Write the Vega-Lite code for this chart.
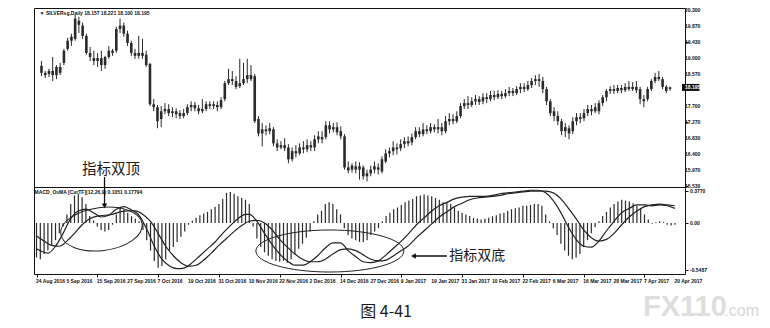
{
  "$schema": "https://vega.github.io/schema/vega-lite/v6.json",
  "background": "white",
  "padding": {"left": 33, "top": 7, "right": 0, "bottom": 0},
  "spacing": 0,
  "bounds": "flush",
  "config": {
    "view": {"stroke": "#111", "strokeWidth": 1},
    "axis": {"grid": false, "domain": false, "labels": false, "tickColor": "#111", "tickSize": 3, "title": null},
    "text": {"font": "Liberation Sans"}
  },
  "datasets": {
    "bars": [
      {"i":0,"o":18.78,"h":18.91,"l":18.50,"c":18.59,"m":-0.40},
      {"i":1,"o":18.59,"h":18.64,"l":18.45,"c":18.53,"m":-0.42},
      {"i":2,"o":18.56,"h":18.70,"l":18.48,"c":18.64,"m":-0.36},
      {"i":3,"o":18.64,"h":19.02,"l":18.37,"c":18.53,"m":-0.32},
      {"i":4,"o":18.53,"h":18.80,"l":18.42,"c":18.75,"m":-0.26},
      {"i":5,"o":18.75,"h":18.86,"l":18.53,"c":18.59,"m":-0.20},
      {"i":6,"o":18.86,"h":19.24,"l":18.80,"c":19.19,"m":-0.12},
      {"i":7,"o":19.24,"h":19.54,"l":19.19,"c":19.46,"m":-0.04},
      {"i":8,"o":19.46,"h":19.65,"l":19.32,"c":19.57,"m":0.10},
      {"i":9,"o":19.51,"h":20.16,"l":19.46,"c":20.06,"m":0.22},
      {"i":10,"o":20.00,"h":20.11,"l":19.67,"c":19.89,"m":0.32},
      {"i":11,"o":19.87,"h":19.95,"l":19.51,"c":19.59,"m":0.34},
      {"i":12,"o":19.59,"h":19.65,"l":19.08,"c":19.13,"m":0.30},
      {"i":13,"o":19.13,"h":19.29,"l":18.91,"c":19.02,"m":0.22},
      {"i":14,"o":18.99,"h":19.19,"l":18.80,"c":18.91,"m":0.08},
      {"i":15,"o":18.91,"h":19.13,"l":18.75,"c":18.99,"m":0.03},
      {"i":16,"o":18.99,"h":19.19,"l":18.64,"c":18.80,"m":-0.04},
      {"i":17,"o":18.80,"h":19.05,"l":18.70,"c":19.02,"m":-0.08},
      {"i":18,"o":19.02,"h":19.32,"l":18.97,"c":19.19,"m":-0.10},
      {"i":19,"o":19.19,"h":19.24,"l":19.05,"c":19.13,"m":-0.08},
      {"i":20,"o":19.19,"h":19.84,"l":19.13,"c":19.78,"m":-0.02},
      {"i":21,"o":19.78,"h":20.06,"l":19.67,"c":19.87,"m":0.10},
      {"i":22,"o":19.87,"h":19.95,"l":19.57,"c":19.65,"m":0.18},
      {"i":23,"o":19.65,"h":19.73,"l":19.32,"c":19.40,"m":0.16},
      {"i":24,"o":19.40,"h":19.46,"l":19.05,"c":19.13,"m":0.12},
      {"i":25,"o":19.13,"h":19.24,"l":18.97,"c":19.05,"m":0.08},
      {"i":26,"o":19.05,"h":19.59,"l":18.97,"c":19.13,"m":0.05},
      {"i":27,"o":19.13,"h":19.51,"l":18.97,"c":19.05,"m":0.02},
      {"i":28,"o":19.08,"h":19.19,"l":18.75,"c":18.80,"m":-0.08},
      {"i":29,"o":18.83,"h":18.86,"l":17.69,"c":17.74,"m":-0.20},
      {"i":30,"o":17.74,"h":17.88,"l":17.55,"c":17.66,"m":-0.32},
      {"i":31,"o":17.66,"h":17.72,"l":17.09,"c":17.28,"m":-0.44},
      {"i":32,"o":17.34,"h":17.69,"l":17.12,"c":17.55,"m":-0.52},
      {"i":33,"o":17.55,"h":17.77,"l":17.47,"c":17.61,"m":-0.50},
      {"i":34,"o":17.61,"h":17.74,"l":17.42,"c":17.50,"m":-0.42},
      {"i":35,"o":17.50,"h":17.66,"l":17.39,"c":17.55,"m":-0.32},
      {"i":36,"o":17.55,"h":17.63,"l":17.36,"c":17.47,"m":-0.28},
      {"i":37,"o":17.50,"h":17.58,"l":17.34,"c":17.42,"m":-0.22},
      {"i":38,"o":17.42,"h":17.61,"l":17.36,"c":17.50,"m":-0.16},
      {"i":39,"o":17.50,"h":17.74,"l":17.44,"c":17.66,"m":-0.10},
      {"i":40,"o":17.66,"h":17.82,"l":17.55,"c":17.72,"m":-0.02},
      {"i":41,"o":17.72,"h":17.80,"l":17.55,"c":17.63,"m":0.03},
      {"i":42,"o":17.63,"h":17.72,"l":17.47,"c":17.55,"m":0.06},
      {"i":43,"o":17.55,"h":17.88,"l":17.50,"c":17.61,"m":0.09},
      {"i":44,"o":17.61,"h":17.82,"l":17.55,"c":17.74,"m":0.11},
      {"i":45,"o":17.74,"h":17.82,"l":17.61,"c":17.69,"m":0.13},
      {"i":46,"o":17.69,"h":17.82,"l":17.61,"c":17.74,"m":0.16},
      {"i":47,"o":17.72,"h":17.82,"l":17.55,"c":17.66,"m":0.19},
      {"i":48,"o":17.66,"h":17.93,"l":17.61,"c":17.85,"m":0.22},
      {"i":49,"o":17.88,"h":18.37,"l":17.82,"c":18.31,"m":0.28},
      {"i":50,"o":18.31,"h":18.70,"l":18.26,"c":18.42,"m":0.35},
      {"i":51,"o":18.42,"h":18.64,"l":18.26,"c":18.37,"m":0.36},
      {"i":52,"o":18.37,"h":18.50,"l":18.15,"c":18.21,"m":0.34},
      {"i":53,"o":18.23,"h":18.97,"l":18.18,"c":18.31,"m":0.31},
      {"i":54,"o":18.31,"h":18.86,"l":18.26,"c":18.42,"m":0.29},
      {"i":55,"o":18.42,"h":18.97,"l":18.31,"c":18.53,"m":0.27},
      {"i":56,"o":18.53,"h":18.80,"l":18.37,"c":18.42,"m":0.22},
      {"i":57,"o":18.50,"h":18.56,"l":17.23,"c":17.28,"m":-0.04},
      {"i":58,"o":17.34,"h":17.42,"l":16.87,"c":16.95,"m":-0.18},
      {"i":59,"o":16.95,"h":17.23,"l":16.60,"c":17.06,"m":-0.28},
      {"i":60,"o":17.06,"h":17.17,"l":16.90,"c":17.01,"m":-0.34},
      {"i":61,"o":17.01,"h":17.23,"l":16.93,"c":17.09,"m":-0.38},
      {"i":62,"o":17.06,"h":17.12,"l":16.60,"c":16.68,"m":-0.42},
      {"i":63,"o":16.68,"h":16.79,"l":16.47,"c":16.57,"m":-0.44},
      {"i":64,"o":16.57,"h":16.74,"l":16.52,"c":16.63,"m":-0.45},
      {"i":65,"o":16.63,"h":16.82,"l":16.47,"c":16.55,"m":-0.44},
      {"i":66,"o":16.57,"h":16.66,"l":16.14,"c":16.25,"m":-0.46},
      {"i":67,"o":16.25,"h":16.57,"l":16.19,"c":16.47,"m":-0.42},
      {"i":68,"o":16.47,"h":16.63,"l":16.30,"c":16.41,"m":-0.36},
      {"i":69,"o":16.41,"h":16.68,"l":16.36,"c":16.57,"m":-0.30},
      {"i":70,"o":16.57,"h":16.74,"l":16.41,"c":16.52,"m":-0.24},
      {"i":71,"o":16.52,"h":16.79,"l":16.44,"c":16.63,"m":-0.17},
      {"i":72,"o":16.63,"h":16.74,"l":16.47,"c":16.57,"m":-0.10},
      {"i":73,"o":16.57,"h":16.90,"l":16.47,"c":16.79,"m":0.02},
      {"i":74,"o":16.79,"h":17.01,"l":16.68,"c":16.87,"m":0.10},
      {"i":75,"o":16.85,"h":17.01,"l":16.68,"c":16.79,"m":0.14},
      {"i":76,"o":16.85,"h":17.28,"l":16.79,"c":17.17,"m":0.22},
      {"i":77,"o":17.17,"h":17.28,"l":16.95,"c":17.06,"m":0.24},
      {"i":78,"o":17.06,"h":17.23,"l":16.98,"c":17.12,"m":0.22},
      {"i":79,"o":17.12,"h":17.25,"l":16.90,"c":16.98,"m":0.16},
      {"i":80,"o":17.01,"h":17.14,"l":16.79,"c":16.87,"m":0.10},
      {"i":81,"o":16.87,"h":16.93,"l":15.97,"c":16.03,"m":-0.06},
      {"i":82,"o":16.03,"h":16.19,"l":15.87,"c":15.95,"m":-0.14},
      {"i":83,"o":15.97,"h":16.14,"l":15.89,"c":16.08,"m":-0.18},
      {"i":84,"o":16.06,"h":16.19,"l":15.87,"c":15.97,"m":-0.20},
      {"i":85,"o":15.97,"h":16.17,"l":15.70,"c":16.06,"m":-0.22},
      {"i":86,"o":16.03,"h":16.08,"l":15.70,"c":15.79,"m":-0.22},
      {"i":87,"o":15.79,"h":15.97,"l":15.65,"c":15.87,"m":-0.20},
      {"i":88,"o":15.87,"h":16.08,"l":15.79,"c":15.97,"m":-0.14},
      {"i":89,"o":15.97,"h":16.19,"l":15.87,"c":16.06,"m":-0.10},
      {"i":90,"o":16.03,"h":16.14,"l":15.84,"c":15.97,"m":-0.06},
      {"i":91,"o":15.92,"h":16.33,"l":15.87,"c":16.25,"m":0.02},
      {"i":92,"o":16.19,"h":16.52,"l":16.14,"c":16.41,"m":0.08},
      {"i":93,"o":16.41,"h":16.57,"l":16.30,"c":16.47,"m":0.12},
      {"i":94,"o":16.47,"h":16.74,"l":16.36,"c":16.57,"m":0.16},
      {"i":95,"o":16.57,"h":16.68,"l":16.38,"c":16.52,"m":0.18},
      {"i":96,"o":16.55,"h":16.79,"l":16.47,"c":16.66,"m":0.21},
      {"i":97,"o":16.66,"h":16.85,"l":16.55,"c":16.74,"m":0.24},
      {"i":98,"o":16.74,"h":16.87,"l":16.60,"c":16.68,"m":0.26},
      {"i":99,"o":16.71,"h":16.95,"l":16.63,"c":16.85,"m":0.28},
      {"i":100,"o":16.85,"h":17.12,"l":16.79,"c":17.01,"m":0.31},
      {"i":101,"o":17.01,"h":17.12,"l":16.85,"c":16.93,"m":0.32},
      {"i":102,"o":16.93,"h":17.23,"l":16.87,"c":17.06,"m":0.33},
      {"i":103,"o":17.06,"h":17.17,"l":16.93,"c":17.01,"m":0.32},
      {"i":104,"o":17.01,"h":17.23,"l":16.95,"c":17.12,"m":0.31},
      {"i":105,"o":17.12,"h":17.20,"l":16.98,"c":17.06,"m":0.29},
      {"i":106,"o":17.06,"h":17.34,"l":16.95,"c":17.12,"m":0.27},
      {"i":107,"o":17.12,"h":17.23,"l":16.90,"c":17.01,"m":0.24},
      {"i":108,"o":17.01,"h":17.42,"l":16.95,"c":17.28,"m":0.24},
      {"i":109,"o":17.28,"h":17.50,"l":17.17,"c":17.34,"m":0.22},
      {"i":110,"o":17.34,"h":17.47,"l":17.20,"c":17.28,"m":0.18},
      {"i":111,"o":17.28,"h":17.55,"l":17.23,"c":17.42,"m":0.14},
      {"i":112,"o":17.42,"h":17.77,"l":17.36,"c":17.69,"m":0.12},
      {"i":113,"o":17.69,"h":17.88,"l":17.61,"c":17.77,"m":0.10},
      {"i":114,"o":17.77,"h":17.96,"l":17.61,"c":17.72,"m":0.08},
      {"i":115,"o":17.72,"h":17.93,"l":17.66,"c":17.82,"m":0.06},
      {"i":116,"o":17.82,"h":17.99,"l":17.72,"c":17.88,"m":0.05},
      {"i":117,"o":17.88,"h":17.96,"l":17.72,"c":17.80,"m":0.04},
      {"i":118,"o":17.82,"h":18.04,"l":17.74,"c":17.93,"m":0.05},
      {"i":119,"o":17.93,"h":18.04,"l":17.77,"c":17.88,"m":0.06},
      {"i":120,"o":17.88,"h":18.10,"l":17.82,"c":17.99,"m":0.08},
      {"i":121,"o":17.99,"h":18.10,"l":17.85,"c":17.93,"m":0.09},
      {"i":122,"o":17.93,"h":18.12,"l":17.88,"c":18.02,"m":0.11},
      {"i":123,"o":18.02,"h":18.10,"l":17.88,"c":17.96,"m":0.12},
      {"i":124,"o":17.96,"h":18.15,"l":17.91,"c":18.04,"m":0.14},
      {"i":125,"o":18.04,"h":18.21,"l":17.96,"c":18.10,"m":0.16},
      {"i":126,"o":18.10,"h":18.18,"l":17.96,"c":18.04,"m":0.17},
      {"i":127,"o":18.04,"h":18.23,"l":17.99,"c":18.15,"m":0.18},
      {"i":128,"o":18.15,"h":18.31,"l":18.04,"c":18.21,"m":0.20},
      {"i":129,"o":18.21,"h":18.31,"l":18.07,"c":18.15,"m":0.20},
      {"i":130,"o":18.15,"h":18.37,"l":18.10,"c":18.26,"m":0.21},
      {"i":131,"o":18.26,"h":18.45,"l":18.18,"c":18.37,"m":0.22},
      {"i":132,"o":18.37,"h":18.53,"l":18.26,"c":18.42,"m":0.22},
      {"i":133,"o":18.42,"h":18.56,"l":18.21,"c":18.37,"m":0.20},
      {"i":134,"o":18.37,"h":18.48,"l":18.04,"c":18.15,"m":0.10},
      {"i":135,"o":18.15,"h":18.21,"l":17.72,"c":17.82,"m":0.02},
      {"i":136,"o":17.82,"h":17.88,"l":17.42,"c":17.50,"m":-0.06},
      {"i":137,"o":17.55,"h":17.66,"l":17.28,"c":17.42,"m":-0.14},
      {"i":138,"o":17.42,"h":17.55,"l":17.17,"c":17.28,"m":-0.24},
      {"i":139,"o":17.28,"h":17.34,"l":16.90,"c":17.01,"m":-0.32},
      {"i":140,"o":17.01,"h":17.23,"l":16.85,"c":17.12,"m":-0.38},
      {"i":141,"o":17.09,"h":17.17,"l":16.79,"c":16.95,"m":-0.42},
      {"i":142,"o":17.01,"h":17.39,"l":16.93,"c":17.28,"m":-0.40},
      {"i":143,"o":17.28,"h":17.50,"l":17.17,"c":17.39,"m":-0.36},
      {"i":144,"o":17.39,"h":17.50,"l":17.23,"c":17.34,"m":-0.28},
      {"i":145,"o":17.36,"h":17.61,"l":17.28,"c":17.50,"m":-0.20},
      {"i":146,"o":17.50,"h":17.72,"l":17.42,"c":17.61,"m":-0.12},
      {"i":147,"o":17.61,"h":17.72,"l":17.44,"c":17.55,"m":-0.05},
      {"i":148,"o":17.55,"h":17.77,"l":17.50,"c":17.66,"m":0.02},
      {"i":149,"o":17.55,"h":17.85,"l":17.47,"c":17.77,"m":0.08},
      {"i":150,"o":17.77,"h":17.99,"l":17.69,"c":17.93,"m":0.13},
      {"i":151,"o":17.93,"h":18.15,"l":17.82,"c":18.10,"m":0.18},
      {"i":152,"o":18.10,"h":18.23,"l":18.02,"c":18.15,"m":0.22},
      {"i":153,"o":18.15,"h":18.26,"l":18.02,"c":18.10,"m":0.25},
      {"i":154,"o":18.10,"h":18.26,"l":18.04,"c":18.18,"m":0.27},
      {"i":155,"o":18.18,"h":18.26,"l":18.04,"c":18.12,"m":0.26},
      {"i":156,"o":18.12,"h":18.31,"l":18.07,"c":18.21,"m":0.25},
      {"i":157,"o":18.21,"h":18.37,"l":18.10,"c":18.15,"m":0.23},
      {"i":158,"o":18.15,"h":18.34,"l":18.10,"c":18.21,"m":0.20},
      {"i":159,"o":18.21,"h":18.37,"l":18.04,"c":18.12,"m":0.17},
      {"i":160,"o":18.15,"h":18.21,"l":17.74,"c":17.88,"m":0.10},
      {"i":161,"o":17.88,"h":17.99,"l":17.66,"c":17.82,"m":0.04},
      {"i":162,"o":17.88,"h":18.21,"l":17.82,"c":18.15,"m":-0.01},
      {"i":163,"o":18.15,"h":18.42,"l":18.10,"c":18.37,"m":0.01},
      {"i":164,"o":18.37,"h":18.59,"l":18.31,"c":18.48,"m":0.02},
      {"i":165,"o":18.48,"h":18.64,"l":18.37,"c":18.42,"m":0.01},
      {"i":166,"o":18.42,"h":18.48,"l":18.15,"c":18.21,"m":-0.02},
      {"i":167,"o":18.21,"h":18.26,"l":18.04,"c":18.10,"m":-0.03},
      {"i":168,"o":18.157,"h":18.221,"l":18.100,"c":18.195,"m":-0.02}
    ],
    "macd": [
      {"i":0,"v":-0.30},{"i":3,"v":-0.35},{"i":5,"v":-0.27},{"i":7,"v":-0.12},{"i":9,"v":0.05},
      {"i":11,"v":0.14},{"i":13,"v":0.16},{"i":15,"v":0.12},{"i":17,"v":0.07},{"i":19,"v":0.09},
      {"i":21,"v":0.16},{"i":23,"v":0.19},{"i":25,"v":0.15},{"i":27,"v":0.09},{"i":29,"v":-0.07},
      {"i":31,"v":-0.27},{"i":33,"v":-0.42},{"i":35,"v":-0.50},{"i":37,"v":-0.53},{"i":39,"v":-0.52},
      {"i":41,"v":-0.46},{"i":43,"v":-0.38},{"i":45,"v":-0.30},{"i":47,"v":-0.22},{"i":49,"v":-0.12},
      {"i":51,"v":-0.03},{"i":53,"v":0.05},{"i":55,"v":0.10},{"i":56,"v":0.10},{"i":58,"v":0.02},
      {"i":60,"v":-0.12},{"i":62,"v":-0.25},{"i":64,"v":-0.36},{"i":66,"v":-0.44},{"i":68,"v":-0.49},
      {"i":70,"v":-0.49},{"i":72,"v":-0.45},{"i":74,"v":-0.38},{"i":76,"v":-0.29},{"i":78,"v":-0.23},
      {"i":80,"v":-0.23},{"i":82,"v":-0.32},{"i":84,"v":-0.39},{"i":86,"v":-0.45},{"i":88,"v":-0.46},
      {"i":90,"v":-0.44},{"i":92,"v":-0.37},{"i":94,"v":-0.29},{"i":96,"v":-0.21},{"i":98,"v":-0.12},
      {"i":100,"v":-0.02},{"i":102,"v":0.06},{"i":104,"v":0.14},{"i":106,"v":0.20},{"i":108,"v":0.24},
      {"i":110,"v":0.28},{"i":112,"v":0.30},{"i":114,"v":0.31},{"i":116,"v":0.31},{"i":118,"v":0.31},
      {"i":120,"v":0.32},{"i":122,"v":0.34},{"i":124,"v":0.35},{"i":126,"v":0.36},{"i":128,"v":0.37},
      {"i":130,"v":0.38},{"i":132,"v":0.38},{"i":134,"v":0.35},{"i":136,"v":0.26},{"i":138,"v":0.12},
      {"i":140,"v":-0.05},{"i":142,"v":-0.19},{"i":144,"v":-0.27},{"i":146,"v":-0.28},{"i":148,"v":-0.21},
      {"i":150,"v":-0.09},{"i":152,"v":0.02},{"i":154,"v":0.12},{"i":156,"v":0.17},{"i":158,"v":0.21},
      {"i":160,"v":0.21},{"i":162,"v":0.20},{"i":164,"v":0.21},{"i":166,"v":0.20},{"i":168,"v":0.17}
    ],
    "signal": [
      {"i":0,"v":-0.15},{"i":2,"v":-0.21},{"i":4,"v":-0.26},{"i":6,"v":-0.27},{"i":8,"v":-0.21},
      {"i":10,"v":-0.12},{"i":12,"v":-0.02},{"i":14,"v":0.05},{"i":16,"v":0.08},{"i":18,"v":0.09},
      {"i":20,"v":0.10},{"i":22,"v":0.13},{"i":24,"v":0.14},{"i":26,"v":0.14},{"i":28,"v":0.10},
      {"i":30,"v":0.02},{"i":32,"v":-0.12},{"i":34,"v":-0.27},{"i":36,"v":-0.38},{"i":38,"v":-0.46},
      {"i":40,"v":-0.50},{"i":42,"v":-0.49},{"i":44,"v":-0.43},{"i":46,"v":-0.35},{"i":48,"v":-0.26},
      {"i":50,"v":-0.18},{"i":52,"v":-0.10},{"i":54,"v":-0.03},{"i":56,"v":0.02},{"i":58,"v":0.03},
      {"i":60,"v":0.00},{"i":62,"v":-0.08},{"i":64,"v":-0.19},{"i":66,"v":-0.28},{"i":68,"v":-0.36},
      {"i":70,"v":-0.42},{"i":72,"v":-0.45},{"i":74,"v":-0.45},{"i":76,"v":-0.42},{"i":78,"v":-0.36},
      {"i":80,"v":-0.31},{"i":82,"v":-0.30},{"i":84,"v":-0.32},{"i":86,"v":-0.37},{"i":88,"v":-0.42},
      {"i":90,"v":-0.44},{"i":92,"v":-0.43},{"i":94,"v":-0.38},{"i":96,"v":-0.32},{"i":98,"v":-0.26},
      {"i":100,"v":-0.17},{"i":102,"v":-0.09},{"i":104,"v":-0.01},{"i":106,"v":0.07},{"i":108,"v":0.13},
      {"i":110,"v":0.19},{"i":112,"v":0.23},{"i":114,"v":0.27},{"i":116,"v":0.29},{"i":118,"v":0.30},
      {"i":120,"v":0.31},{"i":122,"v":0.32},{"i":124,"v":0.34},{"i":126,"v":0.35},{"i":128,"v":0.36},
      {"i":130,"v":0.37},{"i":132,"v":0.37},{"i":134,"v":0.37},{"i":136,"v":0.35},{"i":138,"v":0.28},
      {"i":140,"v":0.17},{"i":142,"v":0.05},{"i":144,"v":-0.08},{"i":146,"v":-0.17},{"i":148,"v":-0.21},
      {"i":150,"v":-0.19},{"i":152,"v":-0.12},{"i":154,"v":-0.02},{"i":156,"v":0.07},{"i":158,"v":0.14},
      {"i":160,"v":0.19},{"i":162,"v":0.21},{"i":164,"v":0.22},{"i":166,"v":0.21},{"i":168,"v":0.20}
    ],
    "priceLabels": [
      {"p":20.3,"t":"20.300"},{"p":19.87,"t":"19.870"},{"p":19.43,"t":"19.430"},{"p":19.0,"t":"19.000"},
      {"p":18.57,"t":"18.570"},{"p":17.7,"t":"17.700"},{"p":17.27,"t":"17.270"},{"p":16.83,"t":"16.830"},
      {"p":16.4,"t":"16.400"},{"p":15.97,"t":"15.970"},{"p":15.53,"t":"15.530"}
    ],
    "macdLabels": [
      {"v":0.377,"t":"0.3770"},{"v":0,"t":"0.00"},{"v":-0.5487,"t":"-0.5487"}
    ],
    "dateLabels": [
      {"i":0,"t":"24 Aug 2016"},{"i":8,"t":"5 Sep 2016"},{"i":16,"t":"15 Sep 2016"},{"i":24,"t":"27 Sep 2016"},
      {"i":32,"t":"7 Oct 2016"},{"i":40,"t":"19 Oct 2016"},{"i":48,"t":"31 Oct 2016"},{"i":56,"t":"10 Nov 2016"},
      {"i":64,"t":"22 Nov 2016"},{"i":72,"t":"2 Dec 2016"},{"i":80,"t":"14 Dec 2016"},{"i":88,"t":"27 Dec 2016"},
      {"i":96,"t":"9 Jan 2017"},{"i":104,"t":"19 Jan 2017"},{"i":112,"t":"31 Jan 2017"},{"i":120,"t":"10 Feb 2017"},
      {"i":128,"t":"22 Feb 2017"},{"i":136,"t":"6 Mar 2017"},{"i":144,"t":"16 Mar 2017"},{"i":152,"t":"28 Mar 2017"},
      {"i":160,"t":"7 Apr 2017"},{"i":168,"t":"20 Apr 2017"}
    ]
  },
  "vconcat": [
    {
      "width": 651,
      "height": 179,
      "layer": [
        {
          "data": {"name": "bars"},
          "mark": {"type": "rule", "color": "#2a2a2a", "strokeWidth": 1},
          "encoding": {
            "x": {"field": "i", "type": "quantitative", "scale": {"domain": [-0.66, 170.66], "nice": false, "zero": false}, "axis": null},
            "y": {"field": "l", "type": "quantitative", "scale": {"domain": [15.499, 20.346], "nice": false, "zero": false},
              "axis": {"orient": "right", "values": [20.3, 19.87, 19.43, 19.0, 18.57, 17.7, 17.27, 16.83, 16.4, 15.97, 15.53]}},
            "y2": {"field": "h"}
          }
        },
        {
          "data": {"name": "bars"},
          "mark": {"type": "bar", "color": "#2a2a2a", "size": 2.6},
          "encoding": {
            "x": {"field": "i", "type": "quantitative"},
            "y": {"field": "o", "type": "quantitative"},
            "y2": {"field": "c"}
          }
        },
        {
          "data": {"name": "priceLabels"},
          "mark": {"type": "text", "fontSize": 5, "fontWeight": "bold", "align": "left", "baseline": "middle", "color": "#111", "dx": 5},
          "encoding": {
            "x": {"datum": 170.66, "type": "quantitative"},
            "y": {"field": "p", "type": "quantitative"},
            "text": {"field": "t"}
          }
        },
        {
          "data": {"values": [{"p": 18.195, "t": "18.195"}]},
          "layer": [
            {"mark": {"type": "rect", "color": "#111", "xOffset": 2, "x2Offset": 19.5, "yOffset": -3.5, "y2Offset": 3.5},
             "encoding": {"x": {"datum": 170.66, "type": "quantitative"}, "x2": {"datum": 170.66}, "y": {"field": "p", "type": "quantitative"}, "y2": {"field": "p"}}},
            {"mark": {"type": "text", "color": "white", "fontSize": 5, "fontWeight": "bold", "align": "left", "baseline": "middle", "dx": 5},
             "encoding": {"x": {"datum": 170.66, "type": "quantitative"}, "y": {"field": "p", "type": "quantitative"}, "text": {"field": "t"}}}
          ]
        },
        {
          "data": {"values": [{"i": -0.5, "p": 20.2, "t": "▼ SILVERsg,Daily  18.157 18.221 18.100 18.195"}]},
          "mark": {"type": "text", "fontSize": 5, "fontWeight": "bold", "align": "left", "baseline": "middle", "color": "#111"},
          "encoding": {"x": {"field": "i", "type": "quantitative"}, "y": {"field": "p", "type": "quantitative"}, "text": {"field": "t"}}
        },
        {
          "data": {"values": [{"i": 18.6, "p": 15.97, "t": "指标双顶"}]},
          "mark": {"type": "text", "font": "Noto Sans CJK SC", "fontSize": 14.5, "align": "center", "baseline": "middle", "color": "#1a1a1a"},
          "encoding": {"x": {"field": "i", "type": "quantitative"}, "y": {"field": "p", "type": "quantitative"}, "text": {"field": "t"}}
        }
      ]
    },
    {
      "width": 651,
      "height": 87,
      "layer": [
        {
          "data": {"name": "bars"},
          "mark": {"type": "rule", "color": "#2a2a2a", "strokeWidth": 1.2},
          "encoding": {
            "x": {"field": "i", "type": "quantitative", "scale": {"domain": [-0.66, 170.66], "nice": false, "zero": false},
              "axis": {"orient": "bottom", "values": [0,8,16,24,32,40,48,56,64,72,80,88,96,104,112,120,128,136,144,152,160,168]}},
            "y": {"field": "m", "type": "quantitative", "scale": {"domain": [-0.592, 0.418], "nice": false, "zero": false},
              "axis": {"orient": "right", "values": [0.377, 0, -0.5487]}},
            "y2": {"datum": 0}
          }
        },
        {
          "data": {"name": "macd"},
          "mark": {"type": "line", "color": "#222", "strokeWidth": 1.2, "interpolate": "monotone"},
          "encoding": {
            "x": {"field": "i", "type": "quantitative"},
            "y": {"field": "v", "type": "quantitative"}
          }
        },
        {
          "data": {"name": "signal"},
          "mark": {"type": "line", "color": "#222", "strokeWidth": 1.2, "interpolate": "monotone"},
          "encoding": {
            "x": {"field": "i", "type": "quantitative"},
            "y": {"field": "v", "type": "quantitative"}
          }
        },
        {
          "data": {"name": "macdLabels"},
          "mark": {"type": "text", "fontSize": 5, "fontWeight": "bold", "align": "left", "baseline": "middle", "color": "#111", "dx": 5},
          "encoding": {
            "x": {"datum": 170.66, "type": "quantitative"},
            "y": {"field": "v", "type": "quantitative"},
            "text": {"field": "t"}
          }
        },
        {
          "data": {"name": "dateLabels"},
          "mark": {"type": "text", "fontSize": 5, "fontWeight": "bold", "align": "left", "baseline": "top", "color": "#111", "dx": -0.5, "dy": 5},
          "encoding": {
            "x": {"field": "i", "type": "quantitative"},
            "y": {"datum": -0.592, "type": "quantitative"},
            "text": {"field": "t"}
          }
        },
        {
          "data": {"values": [{"i": 17.1, "v": -0.07}]},
          "mark": {"type": "point", "filled": false, "color": "#222", "strokeWidth": 1, "opacity": 1, "size": 6724, "angle": -7,
            "shape": "M -1 0 C -1 -0.29 -0.5523 -0.525 0 -0.525 C 0.5523 -0.525 1 -0.29 1 0 C 1 0.29 0.5523 0.525 0 0.525 C -0.5523 0.525 -1 0.29 -1 0 Z"},
          "encoding": {"x": {"field": "i", "type": "quantitative"}, "y": {"field": "v", "type": "quantitative"}}
        },
        {
          "data": {"values": [{"i": 77.2, "v": -0.325}]},
          "mark": {"type": "point", "filled": false, "color": "#222", "strokeWidth": 1, "opacity": 1, "size": 21904,
            "shape": "M -1 0 C -1 -0.157 -0.5523 -0.284 0 -0.284 C 0.5523 -0.284 1 -0.157 1 0 C 1 0.157 0.5523 0.284 0 0.284 C -0.5523 0.284 -1 0.157 -1 0 Z"},
          "encoding": {"x": {"field": "i", "type": "quantitative"}, "y": {"field": "v", "type": "quantitative"}}
        },
        {
          "data": {"values": [{"i": 17.9, "a": 0.534, "b": 0.21}]},
          "mark": {"type": "rule", "color": "#111", "strokeWidth": 1.3},
          "encoding": {"x": {"field": "i", "type": "quantitative"}, "y": {"field": "a", "type": "quantitative"}, "y2": {"field": "b"}}
        },
        {
          "data": {"values": [{"i": 17.9, "v": 0.2}]},
          "mark": {"type": "point", "shape": "triangle-down", "filled": true, "color": "#111", "opacity": 1, "size": 30},
          "encoding": {"x": {"field": "i", "type": "quantitative"}, "y": {"field": "v", "type": "quantitative"}}
        },
        {
          "data": {"values": [{"a": 108.0, "b": 99.4, "v": -0.383}]},
          "mark": {"type": "rule", "color": "#111", "strokeWidth": 1.3},
          "encoding": {"x": {"field": "a", "type": "quantitative"}, "x2": {"field": "b"}, "y": {"field": "v", "type": "quantitative"}}
        },
        {
          "data": {"values": [{"i": 99.2, "v": -0.383}]},
          "mark": {"type": "point", "shape": "triangle-left", "filled": true, "color": "#111", "opacity": 1, "size": 30},
          "encoding": {"x": {"field": "i", "type": "quantitative"}, "y": {"field": "v", "type": "quantitative"}}
        },
        {
          "data": {"values": [{"i": 108.6, "v": -0.383, "t": "指标双底"}]},
          "mark": {"type": "text", "font": "Noto Sans CJK SC", "fontSize": 14, "align": "left", "baseline": "middle", "color": "#1a1a1a"},
          "encoding": {"x": {"field": "i", "type": "quantitative"}, "y": {"field": "v", "type": "quantitative"}, "text": {"field": "t"}}
        },
        {
          "data": {"values": [{"i": -0.5, "v": 0.36, "t": "MACD_OsMA [CurTF](12,26,9) 0.1051 0.17794"}]},
          "mark": {"type": "text", "fontSize": 5, "fontWeight": "bold", "align": "left", "baseline": "middle", "color": "#111"},
          "encoding": {"x": {"field": "i", "type": "quantitative"}, "y": {"field": "v", "type": "quantitative"}, "text": {"field": "t"}}
        },
        {
          "data": {"values": [{"i": 92.0, "v": -1.03, "t": "图 4-41"}]},
          "mark": {"type": "text", "font": "Noto Sans CJK SC", "fontSize": 16, "align": "center", "baseline": "middle", "color": "#1a1a1a"},
          "encoding": {"x": {"field": "i", "type": "quantitative"}, "y": {"field": "v", "type": "quantitative"}, "text": {"field": "t"}}
        },
        {
          "data": {"values": [{"i": 159.6, "v": -1.08, "t": "FX110"}]},
          "mark": {"type": "text", "font": "Liberation Sans", "fontWeight": "bold", "fontSize": 29, "align": "left", "baseline": "alphabetic", "color": "#dedede"},
          "encoding": {"x": {"field": "i", "type": "quantitative"}, "y": {"field": "v", "type": "quantitative"}, "text": {"field": "t"}}
        },
        {
          "data": {"values": [{"i": 181.0, "v": -1.08, "t": ".com"}]},
          "mark": {"type": "text", "font": "Liberation Sans", "fontSize": 16, "align": "left", "baseline": "alphabetic", "color": "#d6d6d6"},
          "encoding": {"x": {"field": "i", "type": "quantitative"}, "y": {"field": "v", "type": "quantitative"}, "text": {"field": "t"}}
        }
      ]
    }
  ]
}
